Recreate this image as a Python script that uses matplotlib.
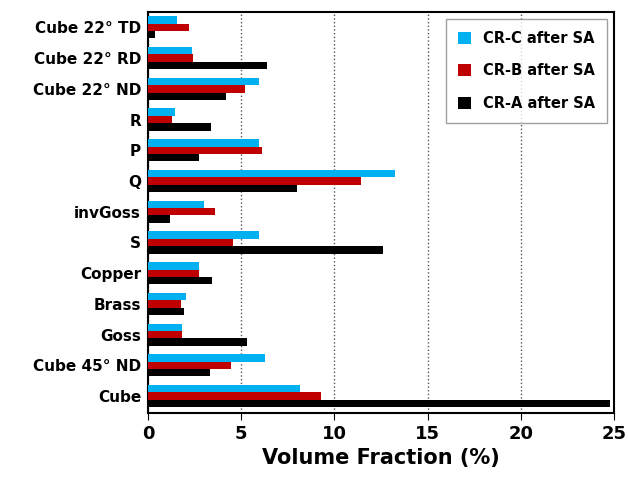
import numpy as np
import matplotlib.pyplot as plt

categories = ['Cube', 'Cube 45° ND', 'Goss', 'Brass', 'Copper', 'S', 'invGoss',
              'Q', 'P', 'R', 'Cube 22° ND', 'Cube 22° RD', 'Cube 22° TD']
cr_c = [8.15, 6.3, 1.8, 2.05, 2.75, 5.95, 3.0, 13.25, 5.95, 1.45, 5.95, 2.35, 1.55]
cr_b = [9.3, 4.45, 1.8, 1.75, 2.75, 4.55, 3.6, 11.45, 6.1, 1.3, 5.2, 2.4, 2.2]
cr_a = [24.8, 3.35, 5.3, 1.95, 3.45, 12.6, 1.2, 8.0, 2.75, 3.4, 4.2, 6.4, 0.4]

fig = plt.figure(figsize=(6.28, 5.01), dpi=100)
ax = fig.add_axes([148 / 628, 1 - 413 / 501, 466 / 628, 401 / 501])

y = np.arange(len(categories))
h = 0.24
ax.barh(y + h, cr_c, h, color='#00b0f0', label='CR-C after SA', zorder=3)
ax.barh(y, cr_b, h, color='#c00000', label='CR-B after SA', zorder=3)
ax.barh(y - h, cr_a, h, color='black', label='CR-A after SA', zorder=3)

ax.set_xlim(0, 25)
ax.set_ylim(-0.55, len(categories) - 0.5)
ax.set_xticks([0, 5, 10, 15, 20, 25])
ax.set_yticks(y)
ax.set_yticklabels(categories, fontsize=11, fontweight='bold')
ax.tick_params(axis='x', labelsize=13, direction='out', length=5)
ax.tick_params(axis='y', length=0, pad=5)
for lab in ax.get_xticklabels():
    lab.set_fontweight('bold')
ax.xaxis.grid(True, linestyle=':', color='#555555', linewidth=1, zorder=0)
for s in ax.spines.values():
    s.set_linewidth(1.5)
ax.set_xlabel('Volume Fraction (%)', fontsize=15, fontweight='bold')

leg = ax.legend(loc='upper right', fontsize=10.5, frameon=True, fancybox=False,
                edgecolor='#888888', handlelength=0.9, handleheight=0.9,
                labelspacing=1.2, borderpad=0.8)
for t in leg.get_texts():
    t.set_fontweight('bold')

fig.savefig('out.png', dpi=100)
